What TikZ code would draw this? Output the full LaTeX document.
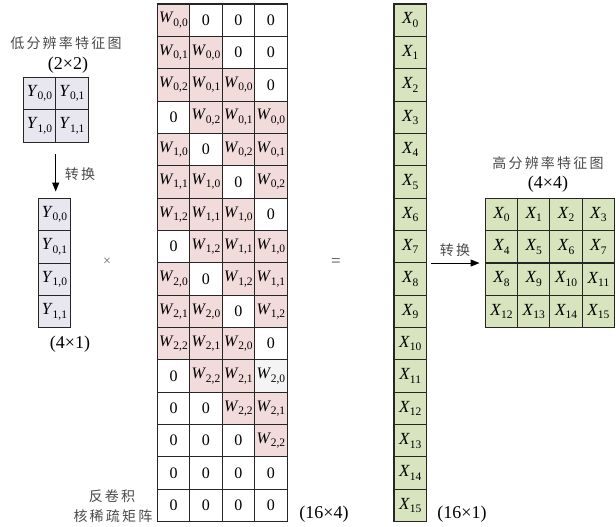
\documentclass[tikz,border=0pt]{standalone}
\usepackage{fontspec}
\setmainfont{Liberation Serif}
\newfontfamily\cjk[LetterSpace=16]{Noto Sans CJK SC}
\usetikzlibrary{arrows.meta,fit}

\definecolor{wpink}{HTML}{F2DCDB}
\definecolor{ygray}{HTML}{E8E6EF}
\definecolor{xgreen}{HTML}{D7E4BD}
\definecolor{lgray}{HTML}{F4F4F4}
\definecolor{edge}{HTML}{262626}
\definecolor{labelgray}{HTML}{4A4A4A}

% italic symbol with an upright, lowered index
\newcommand\idx[2]{\textit{#1}\kern-0.3pt\raisebox{-0.45ex}{\fontsize{11.5}{13}\selectfont #2}}

\tikzset{
  cell/.style={draw=edge, line width=1.1pt, minimum width=32.4pt,
    minimum height=32.4pt, inner sep=0pt, font=\fontsize{16}{18}\selectfont},
  ycell/.style={cell, fill=ygray, font=\fontsize{17}{19}\selectfont},
  xcell/.style={cell, fill=xgreen, font=\fontsize{17}{19}\selectfont},
  cell-w/.style={cell, fill=wpink, node contents={\idx{W}{\i,\j}}},
  cell-g/.style={cell, fill=lgray, node contents={\idx{W}{\i,\j}}},
  cell-z/.style={cell, fill=white, node contents={0}},
  dimlabel/.style={font=\fontsize{18}{21}\selectfont, inner sep=0pt},
  cnlabel/.style={font=\cjk\fontsize{14}{16}\selectfont, text=labelgray, inner sep=0pt},
  convarrow/.style={draw=black, line width=1pt, -{Triangle[length=9pt,width=7pt]}},
  group/.style={inner sep=0pt},
}

\begin{document}
\begin{tikzpicture}[x=1pt, y=-1pt]
\useasboundingbox (0,0) rectangle (616,527);

% low resolution feature map (2x2)
\foreach \r in {0,1}
  \foreach \c in {0,1}
    \node[ycell] (lg-\r-\c) at ({39.5+32.4*\c},{93.5+32.4*\r}) {\idx{Y}{\r,\c}};
\node[group, fit=(lg-0-0)(lg-1-1)] (lowgrid) {};
\node[cnlabel] (lowtitle) at (66,43) {低分辨率特征图};
\node[dimlabel] (lowdim) at (68,65) {(2×2)};

% flattened input column (4x1)
\foreach \k/\r/\c in {0/0/0,1/0/1,2/1/0,3/1/1}
  \node[ycell] (yc-\k) at (54.5,{214.5+32.4*\k}) {\idx{Y}{\r,\c}};
\node[group, fit=(yc-0)(yc-3)] (ycol) {};
\node[dimlabel] (ydim) at (70,344) {(4×1)};

\draw[convarrow] ([yshift=-11pt]lowgrid.south) -- ([yshift=6pt]lowgrid.south |- ycol.north);
\node[cnlabel] (conv1) at (80,174) {转换};

\node[font=\fontsize{14}{16}\selectfont, text=black!60, inner sep=0pt] (times) at (107,262) {×};

% sparse deconvolution kernel matrix (16x4)
\foreach \row [count=\r from 0] in {
  {w/0/0,z,z,z},
  {w/0/1,w/0/0,z,z},
  {w/0/2,w/0/1,w/0/0,z},
  {z,w/0/2,w/0/1,w/0/0},
  {w/1/0,z,w/0/2,w/0/1},
  {w/1/1,w/1/0,z,w/0/2},
  {w/1/2,w/1/1,w/1/0,z},
  {z,w/1/2,w/1/1,w/1/0},
  {w/2/0,z,w/1/2,w/1/1},
  {w/2/1,w/2/0,z,w/1/2},
  {w/2/2,w/2/1,w/2/0,z},
  {z,w/2/2,w/2/1,g/2/0},
  {z,z,w/2/2,w/2/1},
  {z,z,z,w/2/2},
  {z,z,z,z},
  {z,z,z,z}}
  \foreach \k/\i/\j [count=\c from 0] in \row
    \node (m-\r-\c) at ({173.5+32.45*\c},{20.2+32.35*\r}) [cell-\k];
\node[group, fit=(m-0-0)(m-15-3)] (kmat) {};
\node[dimlabel] (mdim) at (324,514) {(16×4)};
\node[cnlabel] (mname1) at (112,496) {反卷积};
\node[cnlabel] (mname2) at (113,516) {核稀疏矩阵};

\node[font=\fontsize{17}{20}\selectfont, text=black!75, inner sep=0pt] (equals) at (336,262.5) {=};

% output column (16x1)
\foreach \i in {0,...,15}
  \node[xcell] (xc-\i) at (410.2,{20.2+32.35*\i}) {\idx{X}{\i}};
\node[group, fit=(xc-0)(xc-15)] (xcol) {};
\node[dimlabel] (xdim) at (462,514) {(16×1)};

% high resolution feature map (4x4)
\foreach \r in {0,...,3}
  \foreach \c in {0,...,3} {
    \pgfmathtruncatemacro\n{4*\r+\c}
    \node[xcell] (hg-\r-\c) at ({501.5+32.3*\c},{214.5+32.35*\r}) {\idx{X}{\n}};
  }
\node[group, fit=(hg-0-0)(hg-3-3)] (highgrid) {};
\node[cnlabel] (hightitle) at (548,163) {高分辨率特征图};
\node[dimlabel] (highdim) at (548,184) {(4×4)};

\coordinate (arrstart) at (xcol.east |- highgrid.west);
\draw[convarrow] ([xshift=4pt]arrstart) -- ([xshift=-5pt]highgrid.west);
\node[cnlabel] (conv2) at (455,250) {转换};
\end{tikzpicture}
\end{document}
